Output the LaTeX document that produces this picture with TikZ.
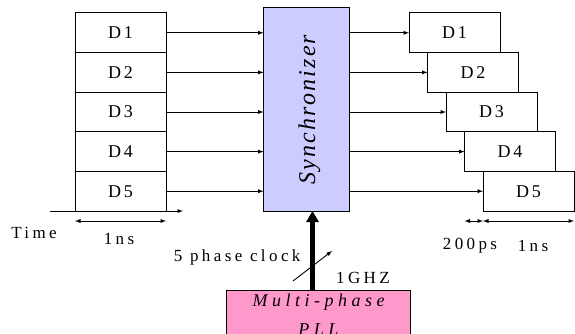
\documentclass[tikz,border=0pt]{standalone}
\usepackage{fontspec}
\setmainfont{Liberation Serif}
\usepackage{tikz}
\usetikzlibrary{arrows, arrows.meta, positioning}
\newfontfamily\widefont[LetterSpace=20]{Liberation Serif}
\newfontfamily\pllfont[LetterSpace=25]{Liberation Serif}
\newfontfamily\slotfont[LetterSpace=16]{Liberation Serif}
\newfontfamily\syncfont[LetterSpace=9]{Liberation Serif}
\definecolor{synclilac}{RGB}{204, 204, 255}
\definecolor{pllpink}{RGB}{255, 153, 204}
\tikzset{
  slot/.style={rectangle, draw=black, line width=1pt, fill=white,
    minimum width=91pt, minimum height=39.6pt, outer sep=0pt,
    font=\fontsize{18}{20}\selectfont\slotfont},
  syncbox/.style={rectangle, draw=black, line width=1pt, fill=synclilac,
    minimum width=86pt, minimum height=203pt, outer sep=0pt},
  pllbox/.style={rectangle, draw=black, line width=1pt, fill=pllpink,
    minimum width=184pt, outer sep=0pt, align=center, inner ysep=4.5pt,
    text depth=50pt, font=\fontsize{18}{29}\selectfont\pllfont\itshape},
  label/.style={font=\fontsize{17}{19}\selectfont\widefont},
  arrow/.style={->, >=latex, line width=0.9pt},
  dim/.style={<->, >=latex, line width=0.9pt},
  bus/.style={-{Triangle[width=12pt,length=11pt]}, line width=4.5pt}
}
\begin{document}
\begin{tikzpicture}[x=1pt, y=-1pt]
\clip (0,0) rectangle (575,334);
\fill[white] (0,0) rectangle (575,334);
% input slots
\node (l1) [slot] at (120.5,32.8) {D1};
\node (l2) [slot, below=0pt of l1] {D2};
\node (l3) [slot, below=0pt of l2] {D3};
\node (l4) [slot, below=0pt of l3] {D4};
\node (l5) [slot, below=0pt of l4] {D5};
% synchronizer
\node (sync) [syncbox] at (306.5,109.5) {};
\node [rotate=90, font=\fontsize{24}{26}\selectfont\syncfont\itshape]
  at ([xshift=3pt]sync.center) {Synchronizer};
% output slots
\node (r1) [slot] at (454.5,32.8) {D1};
\node (r2) [slot, below=0pt of r1, xshift=18.5pt] {D2};
\node (r3) [slot, below=0pt of r2, xshift=18.5pt] {D3};
\node (r4) [slot, below=0pt of r3, xshift=18.5pt] {D4};
\node (r5) [slot, below=0pt of r4, xshift=18.5pt] {D5};
% pll
\node (pll) [pllbox, anchor=north] at (318.5,290) {Multi-phase\\PLL};

\foreach \i in {1,...,5}{
  \draw[arrow] (l\i.east) -- (l\i.east -| sync.west);
  \draw[arrow] (r\i.west -| sync.east) -- (r\i.west);
}

% time axis
\coordinate (t0) at (50,211);
\coordinate (t1) at (183,211);
\draw[arrow] (t0) -- (t1);
\draw[dim] ([yshift=-10pt]l5.south west) -- ([yshift=-10pt]l5.south east);
\node (time) [label] at (34,233) {Time};
\node (lns) [label] at (119,239) {1ns};

\coordinate (dimA) at ([yshift=-10pt]r5.south west);
\draw[dim] (r4.west |- dimA) -- (dimA);
\draw[dim] (dimA) -- (dimA -| r5.east);
\node (ps) [label] at (470,246) {200ps};
\node (rns) [label] at (533,246) {1ns};

% clock bus
\draw[bus] ([xshift=6pt]sync.south |- pll.north) -- ([xshift=6pt]sync.south);
\coordinate (s0) at (293,281);
\coordinate (s1) at (332,251);
\draw[arrow] (s0) -- (s1);
\node (clk) [label, anchor=east] at (304,257) {5 phase clock};
\node (ghz) [label] at (363,278) {1GHZ};
\end{tikzpicture}
\end{document}
